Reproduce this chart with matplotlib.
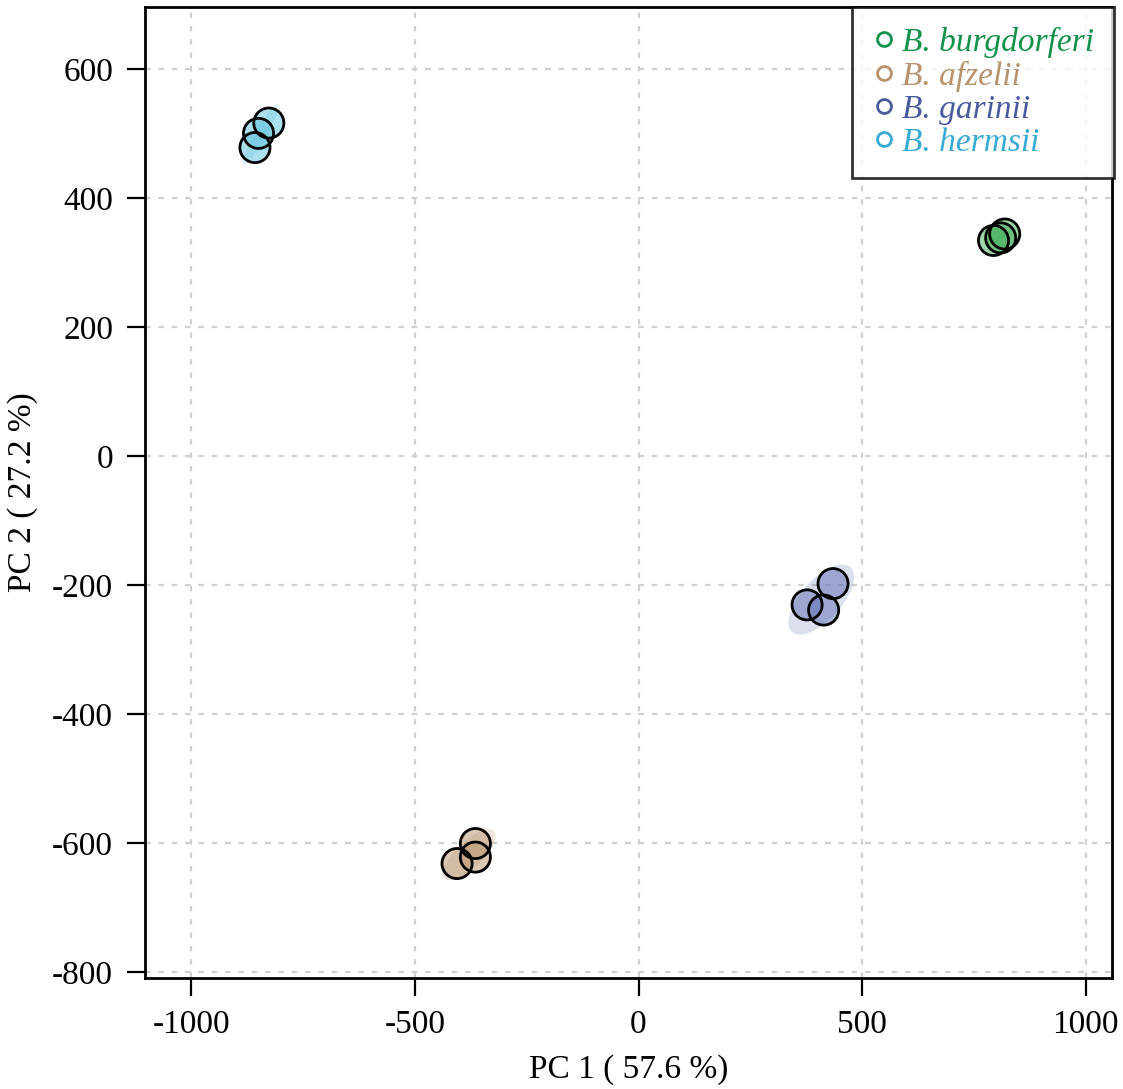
import numpy as np
import matplotlib
matplotlib.use('Agg')
import matplotlib.pyplot as plt
from matplotlib.patches import Ellipse
from matplotlib.lines import Line2D

plt.rcParams['font.family'] = ['Liberation Serif', 'DejaVu Serif']

species = ["B. burgdorferi", "B. afzelii", "B. garinii", "B. hermsii"]
text_colors = ["#12924a", "#b8926c", "#4a5a9e", "#38aad6"]
fill_colors = ["#3fae5a", "#b8926c", "#5f6fb3", "#5cc3df"]

# PCA scores
pc1 = {
    "B. burgdorferi": [794, 810, 819],
    "B. afzelii": [-406, -365, -365],
    "B. garinii": [377, 414, 435],
    "B. hermsii": [-858, -850, -827],
}
pc2 = {
    "B. burgdorferi": [334, 338, 344],
    "B. afzelii": [-632, -601, -622],
    "B. garinii": [-231, -239, -198],
    "B. hermsii": [478, 500, 516],
}

xticks = [-1000, -500, 0, 500, 1000]
yticks = [-800, -600, -400, -200, 0, 200, 400, 600]


def conf_ellipse(x, y, k=2.5):
    x = np.asarray(x, float)
    y = np.asarray(y, float)
    cov = np.cov(x, y)
    vals, vecs = np.linalg.eigh(cov)
    order = vals.argsort()[::-1]
    vals, vecs = vals[order], vecs[:, order]
    ang = np.degrees(np.arctan2(vecs[1, 0], vecs[0, 0]))
    w, h = 2 * k * np.sqrt(vals)
    return (x.mean(), y.mean()), w, h, ang


fig = plt.figure(figsize=(11.23, 10.89), dpi=100)
ax = fig.add_axes([0.1291, 0.1022, 0.8611, 0.8914])

for sp, fc in zip(species, fill_colors):
    c, w, h, a = conf_ellipse(pc1[sp], pc2[sp])
    ax.add_patch(Ellipse(c, w, h, angle=a, facecolor=fc, alpha=0.22,
                         edgecolor='none', zorder=1))
    ax.scatter(pc1[sp], pc2[sp], s=470, facecolor=fc, alpha=0.5,
               edgecolor='none', zorder=3)
    ax.scatter(pc1[sp], pc2[sp], s=470, facecolor='none',
               edgecolor='black', linewidth=2, zorder=4)

ax.set_xlim(-1104, 1059)
ax.set_ylim(-809, 696)
ax.set_xticks(xticks)
ax.set_yticks(yticks)
ax.set_xticklabels([str(t) for t in xticks])
ax.set_yticklabels([str(t) for t in yticks])
ax.grid(True, color='#d0d0cc', linestyle=(0, (2.5, 3.5)), linewidth=1.6)
ax.set_axisbelow(True)
ax.tick_params(direction='out', length=13, width=1.6, labelsize=24, pad=10)
for s in ax.spines.values():
    s.set_linewidth(2)

ax.set_xlabel("PC 1 ( 57.6 %)", fontsize=24, labelpad=10)
ax.set_ylabel("PC 2 ( 27.2 %)", fontsize=24, labelpad=10)

handles = [Line2D([], [], linestyle='none', marker='o', markersize=10,
                  markerfacecolor='none', markeredgecolor=tc, markeredgewidth=2)
           for tc in text_colors]
leg = ax.legend(handles, species, loc='upper right', bbox_to_anchor=(1.002, 1.0),
                borderaxespad=0, fancybox=False, frameon=True,
                prop={'size': 24, 'style': 'italic'}, handletextpad=0.2,
                handlelength=0.7, labelspacing=0.08, borderpad=0.6)
leg.get_frame().set_edgecolor('black')
leg.get_frame().set_linewidth(2)
for t, tc in zip(leg.get_texts(), text_colors):
    t.set_color(tc)

fig.savefig('out.png', dpi=100)
